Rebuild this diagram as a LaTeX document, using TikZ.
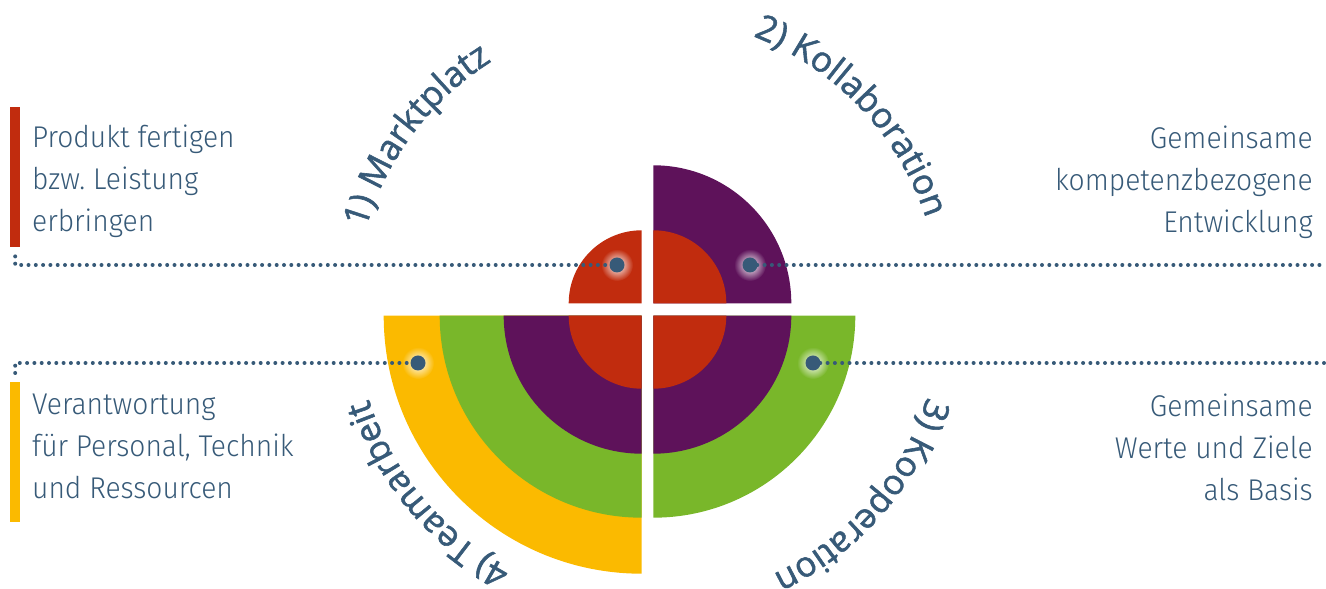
\documentclass[tikz,border=0pt]{standalone}
\usepackage{fontspec}
\setmainfont{Fira Sans Light}[FakeStretch=0.94]
\newfontfamily\arcfont{Open Sans}[FakeBold=1.6]
\usetikzlibrary{positioning,decorations.text,fadings}
\definecolor{textblue}{RGB}{55,90,120}
\definecolor{redc}{RGB}{193,44,14}
\definecolor{purplec}{RGB}{94,18,90}
\definecolor{greenc}{RGB}{121,183,42}
\definecolor{yellowc}{RGB}{251,186,0}
\tikzfading[name=glowfade, inner color=transparent!0, outer color=transparent!100]
\frenchspacing

\begin{document}
\begin{tikzpicture}[x=1pt,y=1pt]
  \tikzset{
    hub/.style={circle, fill=textblue, minimum size=15pt, inner sep=0pt},
    bar/.style={fill=#1, minimum width=10pt, minimum height=140pt, inner sep=0pt, anchor=north west},
    dotline/.style={textblue, line width=4pt, line cap=round, dash pattern=on 0pt off 7.3pt},
    blurb/.style={text=textblue, font=\fontsize{30}{42}\selectfont, inner sep=0pt},
    arclabel/.style={decorate, decoration={text along path, text align=center,
      text={|\fontsize{35}{35}\arcfont\color{textblue}|#1}}}
  }
  \useasboundingbox (0,0) rectangle (1326,589);
  % quadrant centres
  \coordinate (cTL) at (641.7,285.7);
  \coordinate (cTR) at (653.3,285.7);
  \coordinate (cBL) at (641.7,273.3);
  \coordinate (cBR) at (653.3,273.3);
  % rings
  \foreach \r/\c in {258/yellowc, 202/greenc, 138/purplec, 73/redc}
    \fill[\c] (cBL) -- ++(180:\r) arc[start angle=180, end angle=270, radius=\r] -- cycle;
  \foreach \r/\c in {202/greenc, 138/purplec, 73/redc}
    \fill[\c] (cBR) -- ++(270:\r) arc[start angle=270, end angle=360, radius=\r] -- cycle;
  \foreach \r/\c in {138/purplec, 73/redc}
    \fill[\c] (cTR) -- ++(0:\r) arc[start angle=0, end angle=90, radius=\r] -- cycle;
  \fill[redc] (cTL) -- ++(90:73) arc[start angle=90, end angle=180, radius=73] -- cycle;
  % curved labels
  \begin{scope}[shift={(647.5,279.5)}]
    \path[arclabel={1) Marktplatz}] (193:293) arc[start angle=193, end angle=93, radius=293];
    \path[arclabel={2) Kollaboration}] (93:293) arc[start angle=93, end angle=-6, radius=293];
    \path[arclabel={3) Kooperation}] (9:293) arc[start angle=9, end angle=-91, radius=293];
    \path[arclabel={4) Teamarbeit}] (-90:293) arc[start angle=-90, end angle=-190, radius=293];
  \end{scope}
  % hubs
  \coordinate (pMarkt) at (617,324);
  \coordinate (pKolla) at (750,324);
  \coordinate (pKoop) at (813,226);
  \coordinate (pTeam) at (418,226);
  \foreach \p in {pMarkt,pKolla,pKoop,pTeam}
    \fill[white, path fading=glowfade] (\p) circle (16);
  \node[hub] (dotMarkt) at (pMarkt) {};
  \node[hub] (dotKolla) at (pKolla) {};
  \node[hub] (dotKoop) at (pKoop) {};
  \node[hub] (dotTeam) at (pTeam) {};
  % bars and texts
  \node[bar=redc] (barMarkt) at (10,482) {};
  \node[bar=yellowc] (barTeam) at (10,207) {};
  \node[blurb, align=left, anchor=north west] (txtMarkt) at (32,464)
    {Produkt fertigen\\bzw. Leistung\\erbringen};
  \node[blurb, align=left, anchor=north west] (txtTeam) at (32,195)
    {Verantwortung\\für Personal, Technik\\und Ressourcen};
  \node[blurb, align=right, anchor=north east] (txtKolla) at (1313,463)
    {Gemeinsame\\kompetenzbezogene\\Entwicklung};
  \node[blurb, align=right, anchor=north east] (txtKoop) at (1313,195)
    {Gemeinsame\\Werte und Ziele\\als Basis};
  \coordinate (endKolla) at (1326,324);
  \coordinate (endKoop) at (1326,226);
  % connectors
  \draw[dotline] ([yshift=-9pt]barMarkt.south) |- (dotMarkt.center);
  \draw[dotline] ([yshift=9pt]barTeam.north) |- (dotTeam.center);
  \draw[dotline] (dotKolla.center) -- (endKolla);
  \draw[dotline] (dotKoop.center) -- (endKoop);
\end{tikzpicture}
\end{document}
